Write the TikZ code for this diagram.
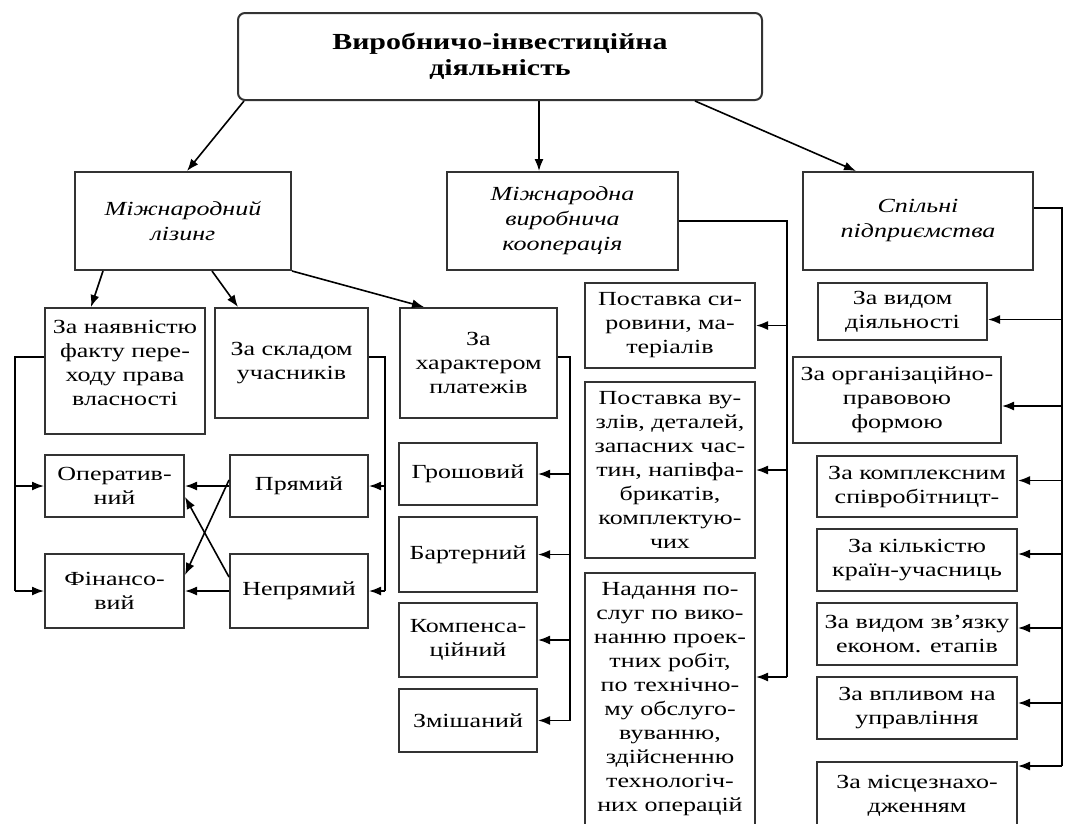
\documentclass[tikz,border=0pt]{standalone}
\usepackage{fontspec}
\setmainfont{Liberation Serif}[FakeStretch=1.3]
\usetikzlibrary{arrows.meta}

\tikzset{
	cell/.style = {draw = black!80, line width = 2pt, align = center, inner sep = 0pt, font = \fontsize{20}{24}\selectfont},
	headcell/.style = {cell, font = \fontsize{20}{25}\selectfont\itshape},
	topcell/.style = {cell, rounded corners = 7pt, font = \fontsize{23}{26}\selectfont\bfseries},
	arr/.style = {-{Latex[length = 12pt, width = 9pt]}, line width = 1.6pt},
	bus/.style = {line width = 1.6pt}
}

\begin{document}
\begin{tikzpicture}[x = 1pt, y = -1pt]
			\useasboundingbox (0,0) rectangle (1066,823);

			\def\lBus{15};
			\def\sBus{385};
			\def\kBus{570};
			\def\mBus{787};
			\def\rBus{1062};

			\begin{scope}
				\node [topcell, minimum width = 524pt, minimum height = 87pt] (top) at (500,56.5) {Виробничо-інвестиційна\\діяльність};

				\node [headcell, minimum width = 216pt, minimum height = 98pt] (lizing) at (183,221) {Міжнародний\\лізинг};
				\node [headcell, minimum width = 231pt, minimum height = 98pt] (koop) at (562.5,221) {Міжнародна\\виробнича\\кооперація};
				\node [headcell, minimum width = 230pt, minimum height = 98pt] (spilni) at (918,221) {Спільні\\підприємства};
			\end{scope}

			\begin{scope}
				\node [cell, minimum width = 160pt, minimum height = 126pt] (faktu) at (125,371) {За наявністю\\факту пере-\\ходу права\\власності\\[-8pt]\mbox{}};
				\node [cell, minimum width = 153pt, minimum height = 110pt] (skladom) at (291.5,363) {За складом\\учасників};
				\node [cell, minimum width = 157pt, minimum height = 110pt] (kharakter) at (478.5,363) {За\\характером\\платежів};

				\node [cell, minimum width = 139pt, minimum height = 62pt] (operat) at (114.5,486) {Оператив-\\ний};
				\node [cell, minimum width = 139pt, minimum height = 74pt] (finans) at (114.5,591) {Фінансо-\\вий};
				\node [cell, minimum width = 138pt, minimum height = 62pt] (pryamyi) at (299,486) {Прямий};
				\node [cell, minimum width = 138pt, minimum height = 74pt] (nepryamyi) at (299,591) {Непрямий};

				\node [cell, minimum width = 138pt, minimum height = 62pt] (groshovyi) at (468,474) {Грошовий};
				\node [cell, minimum width = 138pt, minimum height = 75pt] (barter) at (468,554.5) {Бартерний};
				\node [cell, minimum width = 138pt, minimum height = 74pt] (kompens) at (468,640) {Компенса-\\ційний};
				\node [cell, minimum width = 138pt, minimum height = 63pt] (zmish) at (468,720.5) {Змішаний};
			\end{scope}

			\begin{scope}
				\node [cell, minimum width = 170pt, minimum height = 85pt] (syrovyny) at (670,325.5) {Поставка си-\\ровини, ма-\\теріалів};
				\node [cell, minimum width = 170pt, minimum height = 176pt] (vuzliv) at (670,470) {Поставка ву-\\злів, деталей,\\запасних час-\\тин, напівфа-\\брикатів,\\комплектую-\\чих};
				\node [cell, minimum width = 170pt, minimum height = 253pt] (posluh) at (670,699.5) {Надання по-\\слуг по вико-\\нанню проек-\\тних робіт,\\по технічно-\\му обслуго-\\вуванню,\\здійсненню\\технологіч-\\них операцій};
			\end{scope}

			\begin{scope}
				\node [cell, minimum width = 169pt, minimum height = 57pt] (vydom) at (902.5,311.5) {За видом\\діяльності};
				\node [cell, minimum width = 208pt, minimum height = 86pt] (orgpravo) at (897,400) {За організаційно-\\правовою\\формою};
				\node [cell, minimum width = 200pt, minimum height = 61pt] (kompleks) at (917,486.5) {За комплексним\\співробітницт-};
				\node [cell, minimum width = 200pt, minimum height = 62pt] (kilkist) at (917,560) {За кількістю\\країн-учасниць};
				\node [cell, minimum width = 200pt, minimum height = 62pt] (zvyazok) at (917,634) {За видом зв’язку\\економ. етапів};
				\node [cell, minimum width = 200pt, minimum height = 62pt] (vplyv) at (917,708) {За впливом на\\управління};
				\node [cell, minimum width = 200pt, minimum height = 68pt] (mistse) at (917,796) {За місцезнахо-\\дженням};
			\end{scope}

			\begin{scope}
				\coordinate (lb) at (\lBus,0);
				\coordinate (sb) at (\sBus,0);
				\coordinate (kb) at (\kBus,0);
				\coordinate (mb) at (\mBus,0);
				\coordinate (rb) at (\rBus,0);
			\end{scope}

			\begin{scope}[bus]
				\draw ([yshift = 14pt]faktu.west) -- ([yshift = 14pt]faktu.west -| lb) -- (lb |- finans.west);
				\draw ([yshift = 6pt]skladom.east) -- ([yshift = 6pt]skladom.east -| sb) -- (sb |- nepryamyi.east);
				\draw ([yshift = 6pt]kharakter.east) -- ([yshift = 6pt]kharakter.east -| kb) -- (kb |- zmish.east);
				\draw (koop.east) -- (koop.east -| mb) -- ([yshift = 22.5pt]posluh.east -| mb);
				\draw ([yshift = 13pt]spilni.east) -- ([yshift = 13pt]spilni.east -| rb) -- ([yshift = -5pt]mistse.north east -| rb);
			\end{scope}

			\begin{scope}[arr]
				\draw ([xshift = 7pt]top.south west) -- ([xshift = 4pt]lizing.north);
				\draw ([xshift = 39pt]top.south) -- ([xshift = 39pt]top.south |- koop.north);
				\draw ([xshift = -68pt]top.south east) -- ([xshift = -62pt]spilni.north);

				\draw ([xshift = 29pt]lizing.south west) -- ([xshift = -34pt]faktu.north);
				\draw ([xshift = -80pt]lizing.south east) -- ([xshift = 24pt]skladom.north west);
				\draw (lizing.south east) -- ([xshift = 25pt]kharakter.north west);

				\draw (lb |- operat.west) -- (operat.west);
				\draw (lb |- finans.west) -- (finans.west);

				\draw (sb |- pryamyi.east) -- (pryamyi.east);
				\draw (sb |- nepryamyi.east) -- (nepryamyi.east);

				\draw (pryamyi.west) -- (operat.east);
				\draw (nepryamyi.west) -- (finans.east);
				\draw ([yshift = 6pt]pryamyi.west) -- ([yshift = 16pt]finans.east);
				\draw ([yshift = 14pt]nepryamyi.west) -- ([yshift = -11pt]operat.east);

				\draw (kb |- groshovyi.east) -- (groshovyi.east);
				\draw (kb |- barter.east) -- (barter.east);
				\draw (kb |- kompens.east) -- (kompens.east);
				\draw (kb |- zmish.east) -- (zmish.east);

				\draw (mb |- syrovyny.east) -- (syrovyny.east);
				\draw (mb |- vuzliv.east) -- (vuzliv.east);
				\draw ([yshift = 22.5pt]posluh.east -| mb) -- ([yshift = 22.5pt]posluh.east);

				\draw ([yshift = -8pt]vydom.east -| rb) -- ([yshift = -8pt]vydom.east);
				\draw ([yshift = -6pt]orgpravo.east -| rb) -- ([yshift = -6pt]orgpravo.east);
				\draw ([yshift = 6pt]kompleks.east -| rb) -- ([yshift = 6pt]kompleks.east);
				\draw ([yshift = 6pt]kilkist.east -| rb) -- ([yshift = 6pt]kilkist.east);
				\draw ([yshift = 6pt]zvyazok.east -| rb) -- ([yshift = 6pt]zvyazok.east);
				\draw ([yshift = 5pt]vplyv.east -| rb) -- ([yshift = 5pt]vplyv.east);
				\draw ([yshift = -5pt]mistse.north east -| rb) -- ([yshift = -5pt]mistse.north east);
			\end{scope}
		\end{tikzpicture}
\end{document}
